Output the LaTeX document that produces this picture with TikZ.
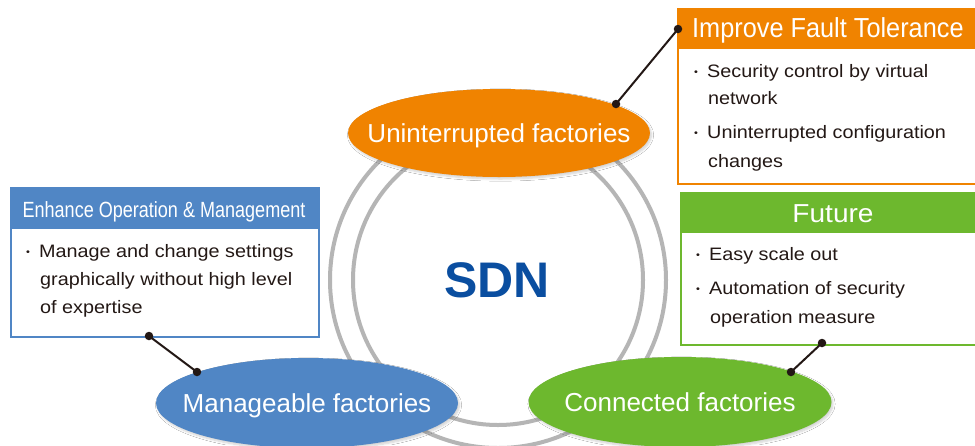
\documentclass[tikz,border=0pt]{standalone}
\usepackage{fontspec}
\setmainfont{Liberation Sans}
\newfontfamily\bodyfont{Liberation Sans}[FakeStretch=1.1]
\newfontfamily\hdfontA{Liberation Sans}[FakeStretch=0.82]
\newfontfamily\hdfontB{Liberation Sans}[FakeStretch=0.92]
\newfontfamily\hdfontC{Liberation Sans}[FakeStretch=1.08]
\usetikzlibrary{shapes.geometric,shadows.blur}
\definecolor{cOrange}{HTML}{F08300}
\definecolor{cBlue}{HTML}{5086C5}
\definecolor{cGreen}{HTML}{6DB82E}
\definecolor{cText}{HTML}{231815}
\definecolor{cSDN}{HTML}{0A4EA0}
\definecolor{cRing}{HTML}{B5B5B5}
\tikzset{
  ring/.style={draw=cRing, line width=4pt},
  ell/.style={ellipse, inner sep=0pt,
    blur shadow={shadow xshift=1.5pt, shadow yshift=-2pt, shadow blur steps=6, shadow opacity=18}},
  elllabel/.style={inner sep=0pt, text=white, text height=19pt, text depth=0pt,
    font=\fontsize{26}{30}\selectfont},
  boxframe/.style={rectangle, anchor=north west, line width=2pt, fill=white, inner sep=0pt},
  headband/.style={rectangle, anchor=north west, inner sep=0pt},
  line/.style={anchor=base west, inner sep=0pt, text=cText, font=\bodyfont\fontsize{18}{22}\selectfont},
  hd/.style={inner sep=0pt, text=white},
  dotnode/.style={circle, fill=cText, inner sep=0pt, minimum size=8.5pt},
  conn/.style={draw=cText, line width=2pt}
}
\newcommand{\blt}{\makebox[13pt][l]{\raisebox{1.5pt}{\fontsize{10}{10}\selectfont •}}}
\begin{document}
\begin{tikzpicture}[x=1pt,y=-1pt]
\useasboundingbox[fill=white] (0,0) rectangle (975,445);

% rings
\draw[ring] (498,280) circle[radius=168];
\draw[ring] (498,280) circle[radius=145];

% centre label
\node[text=cSDN, font=\bfseries\fontsize{50}{56}\selectfont, inner sep=0pt] (sdn) at (497,280) {SDN};

% ellipses
\node[ell, fill=cOrange, minimum width=302pt, minimum height=88pt] (uf) at (499,133) {};
\node[elllabel] (uflabel) at (uf.center) {Uninterrupted factories};
\node[ell, fill=cBlue, minimum width=302pt, minimum height=90pt] (mf) at (307,403) {};
\node[elllabel] (mflabel) at (mf.center) {Manageable factories};
\node[ell, fill=cGreen, minimum width=303pt, minimum height=90pt] (cf) at (680,402) {};
\node[elllabel] (cflabel) at (cf.center) {Connected factories};

% orange box
\node[boxframe, draw=cOrange, minimum width=320pt, minimum height=175pt] (ftbox) at (677,8) {};
\node[headband, fill=cOrange, minimum width=320pt, minimum height=41pt] (fthead) at (677,8) {};
\node[hd, anchor=base west, font=\hdfontB\fontsize{27.5}{32}\selectfont] (fttitle) at (692,37) {Improve Fault Tolerance};
\node[line] (ft1) at (694,77) {\blt Security control by virtual};
\node[line] (ft2) at (708,104) {network};
\node[line] (ft3) at (694,138) {\blt Uninterrupted configuration};
\node[line] (ft4) at (708,167) {changes};

% blue box
\node[boxframe, draw=cBlue, minimum width=308pt, minimum height=149pt] (eobox) at (10,187) {};
\node[headband, fill=cBlue, minimum width=308pt, minimum height=42pt] (eohead) at (10,187) {};
\node[hd, anchor=base, font=\hdfontA\fontsize{22}{26}\selectfont] (eotitle) at (164,217) {Enhance Operation \& Management};
\node[line] (eo1) at (26,257) {\blt Manage and change settings};
\node[line] (eo2) at (40,285) {graphically without high level};
\node[line] (eo3) at (40,313) {of expertise};

% green box
\node[boxframe, draw=cGreen, minimum width=320pt, minimum height=152pt] (fubox) at (680,192) {};
\node[headband, fill=cGreen, minimum width=320pt, minimum height=41pt] (fuhead) at (680,192) {};
\node[hd, anchor=base, font=\hdfontC\fontsize{26}{30}\selectfont] (futitle) at (833,222) {Future};
\node[line] (fu1) at (696,260) {\blt Easy scale out};
\node[line] (fu2) at (696,294) {\blt Automation of security};
\node[line] (fu3) at (710,323) {operation measure};

% connectors
\node[dotnode] (d1a) at (678,29) {};
\node[dotnode] (d1b) at (616,104) {};
\node[dotnode] (d2a) at (149,336) {};
\node[dotnode] (d2b) at (197,372) {};
\node[dotnode] (d3a) at (822,343) {};
\node[dotnode] (d3b) at (791,372) {};
\draw[conn] (d1a.center) -- (d1b.center);
\draw[conn] (d2a.center) -- (d2b.center);
\draw[conn] (d3a.center) -- (d3b.center);
\end{tikzpicture}
\end{document}
